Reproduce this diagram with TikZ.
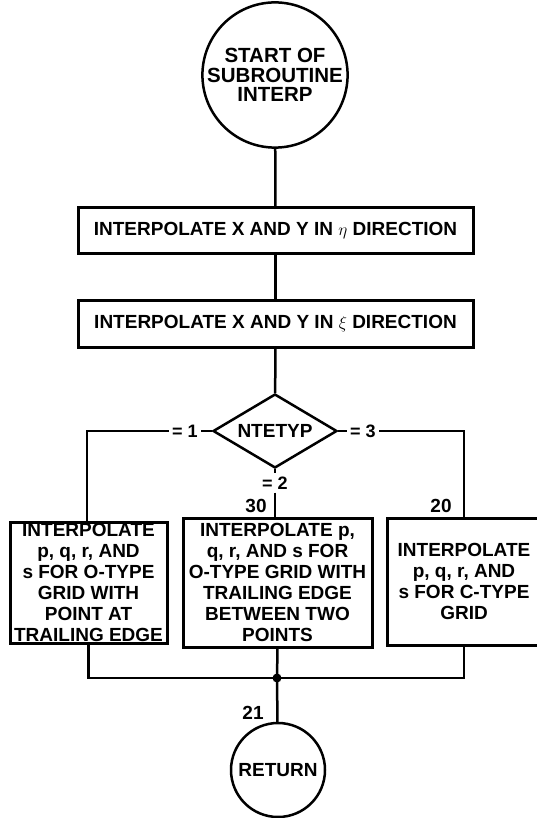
\documentclass[tikz,border=0pt]{standalone}
\usepackage{fontspec}
\setmainfont{Liberation Sans}
\usetikzlibrary{shapes.geometric}
\begin{document}
\begin{tikzpicture}[x=1pt,y=-1pt, line width=2.5pt,
  txt/.style={font=\bfseries\fontsize{19}{20}\selectfont, align=center},
  procbox/.style={draw, line width=3pt, txt, inner sep=0pt},
  lowbox/.style={draw, line width=3pt, font=\bfseries\fontsize{19}{21}\selectfont, align=center, inner sep=0pt},
  term/.style={draw, circle, txt, inner sep=0pt},
  lbl/.style={font=\bfseries\fontsize{18}{20}\selectfont, fill=white, inner sep=2pt},
  num/.style={font=\bfseries\fontsize{19}{20}\selectfont, inner sep=0pt},
]
\useasboundingbox (0,0) rectangle (537,818);
\node[term, minimum size=134pt, font=\bfseries\fontsize{20.5}{19.5}\selectfont] (start) at (275,75) {START OF\\SUBROUTINE\\INTERP};
\node[procbox, minimum width=395pt, minimum height=45pt] (b1) at (275.5,230.5) {INTERPOLATE X AND Y IN $\eta$ DIRECTION};
\node[procbox, minimum width=395pt, minimum height=47pt] (b2) at (275.5,323.5) {INTERPOLATE X AND Y IN $\xi$ DIRECTION};
\node[draw, diamond, shape aspect=2, minimum width=124pt, minimum height=74pt, inner sep=0pt, txt] (d) at (275,431) {NTETYP};
\node[lowbox, minimum width=157pt, minimum height=121pt] (lb) at (88.5,582.5) {INTERPOLATE\\p, q, r, AND\\s FOR O-TYPE\\GRID WITH\\POINT AT\\TRAILING EDGE};
\node[lowbox, minimum width=189pt, minimum height=129pt] (mb) at (277.5,582.5) {INTERPOLATE p,\\q, r, AND s FOR\\O-TYPE GRID WITH\\TRAILING EDGE\\BETWEEN TWO\\POINTS};
\node[lowbox, minimum width=154pt, minimum height=127pt] (rb) at (464,581.5) {INTERPOLATE\\p, q, r, AND\\s FOR C-TYPE\\GRID};
\node[term, minimum size=94pt] (ret) at (278,770) {RETURN};
\node[lbl] (e1) at (185,431) {= 1};
\node[lbl] (e3) at (363,431) {= 3};
\node[lbl] (e2) at (275,483) {= 2};
\node[num] (n30) at (256,506) {30};
\node[num] (n20) at (441,506) {20};
\node[num] (n21) at (253,713) {21};
\coordinate (c1) at (87,431);
\coordinate (c3) at (464,431);
\coordinate (j) at (277,678);
\draw (start) -- (b1);
\draw (b1) -- (b2);
\draw (b2) -- (d);
\draw (d.west) -- (e1);
\draw (e1) -- (c1) -- (c1 |- lb.north);
\draw (d.east) -- (e3);
\draw (e3) -- (c3) -- (rb.north);
\draw (d.south) -- (e2);
\draw (e2) -- (e2 |- mb.north);
\draw (lb.south) -- (lb.south |- j) -- (rb.south |- j) -- (rb.south);
\draw (mb.south) -- (j);
\draw (j) -- (ret);
\fill (j) circle (4.5pt);
\end{tikzpicture}
\end{document}
